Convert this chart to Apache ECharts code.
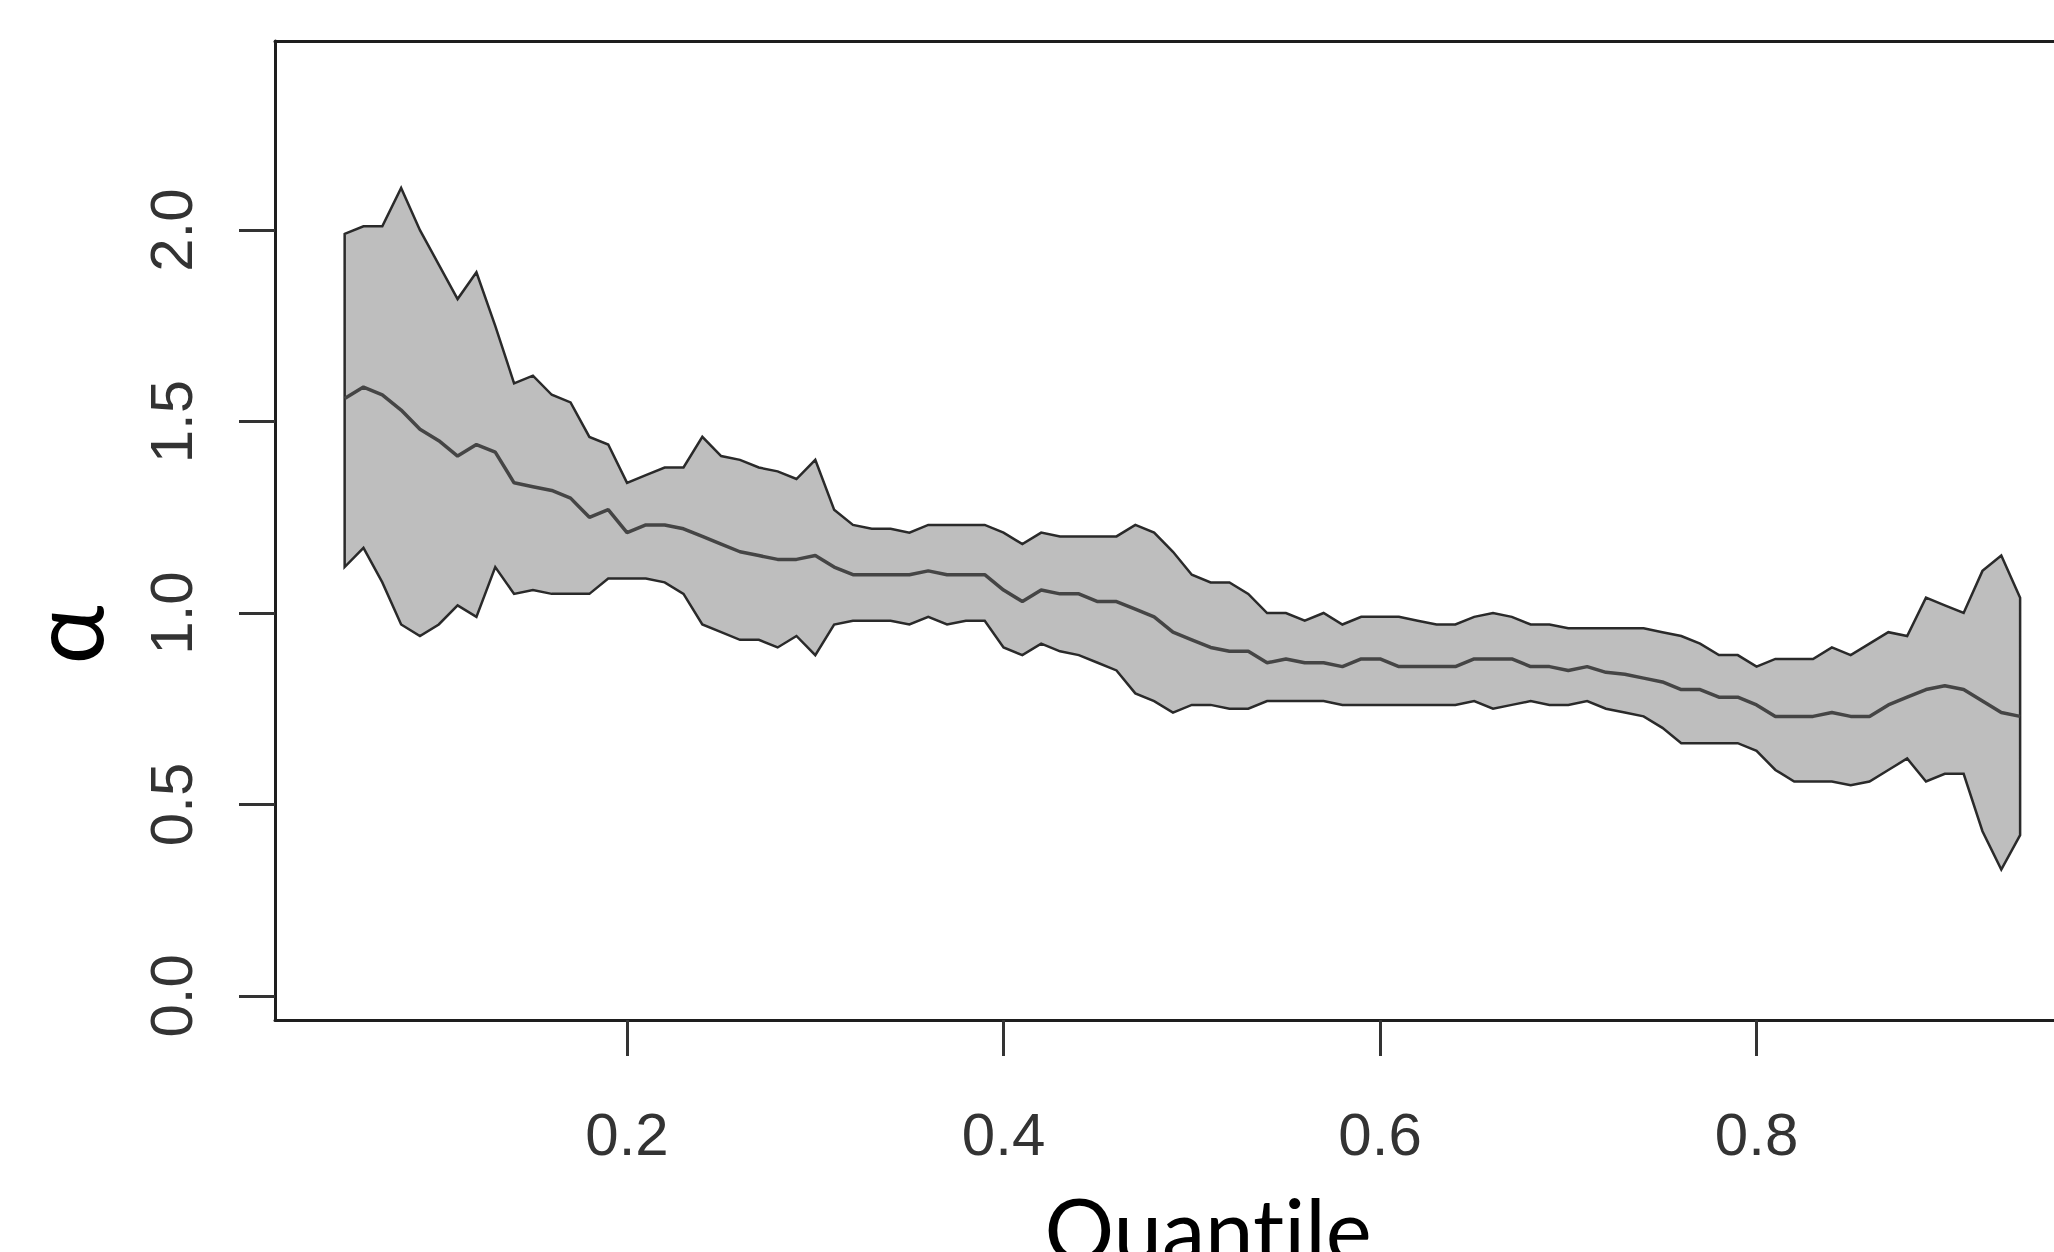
<!DOCTYPE html>
<html>
<head>
<meta charset="utf-8">
<script src="https://cdn.jsdelivr.net/npm/echarts@6.0.0/dist/echarts.min.js"></script>
<style>
    html, body { margin: 0; padding: 0; background: #fff; }
    #chart { width: 2054px; height: 1252px; }
    #chart text {
        font-variant-ligatures: none !important;
        font-feature-settings: "liga" 0, "clig" 0, "calt" 0, "dlig" 0 !important;
    }
</style>
</head>
<body>
<div id="chart"></div>
<script>
// quantile levels (tau)
const taus = [0.05, 0.06, 0.07, 0.08, 0.09, 0.10, 0.11, 0.12, 0.13, 0.14,
    0.15, 0.16, 0.17, 0.18, 0.19, 0.20, 0.21, 0.22, 0.23, 0.24,
    0.25, 0.26, 0.27, 0.28, 0.29, 0.30, 0.31, 0.32, 0.33, 0.34,
    0.35, 0.36, 0.37, 0.38, 0.39, 0.40, 0.41, 0.42, 0.43, 0.44,
    0.45, 0.46, 0.47, 0.48, 0.49, 0.50, 0.51, 0.52, 0.53, 0.54,
    0.55, 0.56, 0.57, 0.58, 0.59, 0.60, 0.61, 0.62, 0.63, 0.64,
    0.65, 0.66, 0.67, 0.68, 0.69, 0.70, 0.71, 0.72, 0.73, 0.74,
    0.75, 0.76, 0.77, 0.78, 0.79, 0.80, 0.81, 0.82, 0.83, 0.84,
    0.85, 0.86, 0.87, 0.88, 0.89, 0.90, 0.91, 0.92, 0.93, 0.94]

// upper bound of the band
const upper = [1.99, 2.01, 2.01, 2.11, 2.00, 1.91, 1.82, 1.89, 1.75, 1.60,
    1.62, 1.57, 1.55, 1.46, 1.44, 1.34, 1.36, 1.38, 1.38, 1.46,
    1.41, 1.40, 1.38, 1.37, 1.35, 1.40, 1.27, 1.23, 1.22, 1.22,
    1.21, 1.23, 1.23, 1.23, 1.23, 1.21, 1.18, 1.21, 1.20, 1.20,
    1.20, 1.20, 1.23, 1.21, 1.16, 1.10, 1.08, 1.08, 1.05, 1.00,
    1.00, 0.98, 1.00, 0.97, 0.99, 0.99, 0.99, 0.98, 0.97, 0.97,
    0.99, 1.00, 0.99, 0.97, 0.97, 0.96, 0.96, 0.96, 0.96, 0.96,
    0.95, 0.94, 0.92, 0.89, 0.89, 0.86, 0.88, 0.88, 0.88, 0.91,
    0.89, 0.92, 0.95, 0.94, 1.04, 1.02, 1.00, 1.11, 1.15, 1.04]

// estimate
const middle = [1.56, 1.59, 1.57, 1.53, 1.48, 1.45, 1.41, 1.44, 1.42, 1.34,
    1.33, 1.32, 1.30, 1.25, 1.27, 1.21, 1.23, 1.23, 1.22, 1.20,
    1.18, 1.16, 1.15, 1.14, 1.14, 1.15, 1.12, 1.10, 1.10, 1.10,
    1.10, 1.11, 1.10, 1.10, 1.10, 1.06, 1.03, 1.06, 1.05, 1.05,
    1.03, 1.03, 1.01, 0.99, 0.95, 0.93, 0.91, 0.90, 0.90, 0.87,
    0.88, 0.87, 0.87, 0.86, 0.88, 0.88, 0.86, 0.86, 0.86, 0.86,
    0.88, 0.88, 0.88, 0.86, 0.86, 0.85, 0.86, 0.845, 0.84, 0.83,
    0.82, 0.80, 0.80, 0.78, 0.78, 0.76, 0.73, 0.73, 0.73, 0.74,
    0.73, 0.73, 0.76, 0.78, 0.80, 0.81, 0.80, 0.77, 0.74, 0.73]

// lower bound of the band
const lower = [1.12, 1.17, 1.08, 0.97, 0.94, 0.97, 1.02, 0.99, 1.12, 1.05,
    1.06, 1.05, 1.05, 1.05, 1.09, 1.09, 1.09, 1.08, 1.05, 0.97,
    0.95, 0.93, 0.93, 0.91, 0.94, 0.89, 0.97, 0.98, 0.98, 0.98,
    0.97, 0.99, 0.97, 0.98, 0.98, 0.91, 0.89, 0.92, 0.90, 0.89,
    0.87, 0.85, 0.79, 0.77, 0.74, 0.76, 0.76, 0.75, 0.75, 0.77,
    0.77, 0.77, 0.77, 0.76, 0.76, 0.76, 0.76, 0.76, 0.76, 0.76,
    0.77, 0.75, 0.76, 0.77, 0.76, 0.76, 0.77, 0.75, 0.74, 0.73,
    0.70, 0.66, 0.66, 0.66, 0.66, 0.64, 0.59, 0.56, 0.56, 0.56,
    0.55, 0.56, 0.59, 0.62, 0.56, 0.58, 0.58, 0.43, 0.33, 0.42]

const xTicks = [0.2, 0.4, 0.6, 0.8]
const yTicks = [0.0, 0.5, 1.0, 1.5, 2.0]

const frameLine = { show: true, onZero: false, lineStyle: { color: '#1e1e1e', width: 3 } }
const tickStyle = { show: true, length: 36, lineStyle: { color: '#333', width: 3 } }
const tickFont = {
    color: '#333',
    fontFamily: '"Liberation Sans", Arial, sans-serif',
    fontSize: 60,
    formatter: v => Number(v).toFixed(1)
}

const myChart = echarts.init(document.querySelector('#chart'), null, { renderer: 'svg' })

myChart.setOption({
    animation: false,
    backgroundColor: '#fff',
    grid: {
        left: 275,
        top: 41,
        bottom: 232,
        right: 0
    },
    // the plot box is cut off at the right edge, so only three sides are drawn
    xAxis: [
        {
            type: 'value',
            min: 0.013,
            max: 0.958,
            axisLine: frameLine,
            splitLine: { show: false },
            axisTick: { ...tickStyle, customValues: xTicks },
            axisLabel: { ...tickFont, margin: 84, customValues: xTicks }
        },
        {
            type: 'value',
            position: 'top',
            min: 0.013,
            max: 0.958,
            axisLine: frameLine,
            splitLine: { show: false },
            axisTick: { show: false },
            axisLabel: { show: false }
        }
    ],
    yAxis: {
        type: 'value',
        min: -0.063,
        max: 2.494,
        axisLine: frameLine,
        splitLine: { show: false },
        axisTick: { ...tickStyle, customValues: yTicks },
        axisLabel: { ...tickFont, margin: 74, customValues: yTicks, rotate: 90 }
    },
    graphic: [
        {
            type: 'text',
            x: 64,
            y: 635,
            rotation: Math.PI / 2,
            style: {
                text: 'α',
                font: '100px Lato, sans-serif',
                fill: '#000',
                align: 'center',
                verticalAlign: 'middle',
                textAlign: 'center',
                textVerticalAlign: 'middle'
            }
        },
        {
            type: 'text',
            x: 1208,
            y: 1272,
            style: {
                text: 'Quantile',
                font: '87px Lato, sans-serif',
                fill: '#000',
                align: 'center',
                verticalAlign: 'bottom',
                textAlign: 'center',
                textVerticalAlign: 'bottom'
            }
        }
    ],
    series: [
        {
            // confidence band drawn as one polygon, like R's polygon()
            type: 'custom',
            data: [[taus[0], lower[0]]],
            z: 2,
            renderItem: (params, api) => {
                const top = taus.map((t, i) => api.coord([t, upper[i]]))
                const bottom = taus.map((t, i) => api.coord([t, lower[i]])).reverse()
                return {
                    type: 'polygon',
                    shape: { points: top.concat(bottom) },
                    style: {
                        fill: '#bebebe',
                        stroke: '#2a2a2a',
                        lineWidth: 2.5,
                        lineJoin: 'miter'
                    }
                }
            }
        },
        {
            type: 'line',
            z: 3,
            showSymbol: false,
            data: taus.map((t, i) => [t, middle[i]]),
            lineStyle: { color: '#454545', width: 3.5 }
        }
    ]
})
</script>
</body>
</html>
